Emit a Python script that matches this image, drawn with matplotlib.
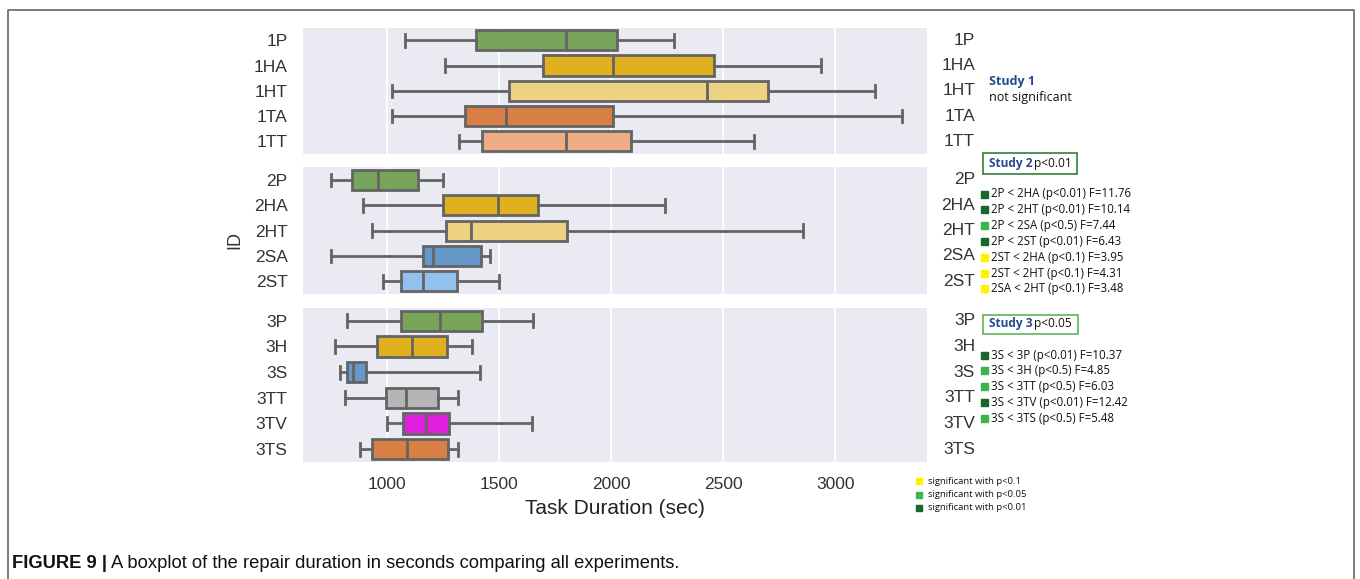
import matplotlib.pyplot as plt
import matplotlib.patches as mpatches
import matplotlib.lines as mlines

# box stats (sec)
labels1 = ["1P", "1HA", "1HT", "1TA", "1TT"]
low1 = [1079, 1259, 1022, 1022, 1322]
q1_1 = [1395, 1695, 1544, 1349, 1424]
med1 = [1799, 2010, 2430, 1531, 1799]
q3_1 = [2025, 2460, 2700, 2010, 2088]
high1 = [2280, 2938, 3180, 3300, 2640]
colors1 = ["#77a55a", "#e1b01f", "#eed283", "#d77f45", "#efad86"]

labels2 = ["2P", "2HA", "2HT", "2SA", "2ST"]
low2 = [748, 891, 932, 748, 982]
q1_2 = [844, 1250, 1265, 1162, 1063]
med2 = [961, 1494, 1375, 1204, 1159]
q3_2 = [1137, 1674, 1803, 1420, 1314]
high2 = [1249, 2239, 2857, 1461, 1499]
colors2 = ["#77a55a", "#e1b01f", "#eed283", "#6699c9", "#93c1ee"]

labels3 = ["3P", "3H", "3S", "3TT", "3TV", "3TS"]
low3 = [820, 770, 790, 812, 1002, 878]
q1_3 = [1062, 955, 822, 995, 1072, 934]
med3 = [1236, 1110, 847, 1083, 1173, 1089]
q3_3 = [1422, 1267, 905, 1227, 1278, 1270]
high3 = [1650, 1379, 1414, 1319, 1647, 1319]
colors3 = ["#77a55a", "#e1b01f", "#6699c9", "#b5b5b5", "#e01fe0", "#d77f45"]

xticks = [1000, 1500, 2000, 2500, 3000]

study2_items = ["2P < 2HA (p<0.01) F=11.76", "2P < 2HT (p<0.01) F=10.14",
                "2P < 2SA (p<0.5) F=7.44", "2P < 2ST (p<0.01) F=6.43",
                "2ST < 2HA (p<0.1) F=3.95", "2ST < 2HT (p<0.1) F=4.31",
                "2SA < 2HT (p<0.1) F=3.48"]
study2_level = ["01", "01", "05", "01", "1", "1", "1"]
study3_items = ["3S < 3P (p<0.01) F=10.37", "3S < 3H (p<0.5) F=4.85",
                "3S < 3TT (p<0.5) F=6.03", "3S < 3TV (p<0.01) F=12.42",
                "3S < 3TS (p<0.5) F=5.48"]
study3_level = ["01", "05", "05", "01", "05"]
legend_text = ["significant with p<0.1", "significant with p<0.05",
               "significant with p<0.01"]
legend_level = ["1", "05", "01"]
sig_color = {"1": "#fff200", "05": "#3db54a", "01": "#17692b"}

W, H = 1360, 579
fig = plt.figure(figsize=(W / 100, H / 100), dpi=100)
plt.rcParams['font.family'] = ['Liberation Sans', 'DejaVu Sans']

edge = "#646464"
lw = 2.0
left_px, right_px = 303, 927
panels = [(27.7, 154), (167.3, 294), (308, 462)]
groups = [(labels1, low1, q1_1, med1, q3_1, high1, colors1),
          (labels2, low2, q1_2, med2, q3_2, high2, colors2),
          (labels3, low3, q1_3, med3, q3_3, high3, colors3)]

axes = []
for (top, bot), (labs, lo, a, m, b, hi, cols) in zip(panels, groups):
    ax = fig.add_axes([left_px / W, 1 - bot / H, (right_px - left_px) / W, (bot - top) / H])
    ax.set_facecolor("#eaeaf2")
    stats = []
    for i in range(len(labs)):
        stats.append(dict(label=labs[i], whislo=lo[i], q1=a[i], med=m[i], q3=b[i], whishi=hi[i], fliers=[]))
    pos = list(range(len(labs)))
    bp = ax.bxp(stats, positions=pos, widths=0.8, orientation='horizontal', patch_artist=True,
                showfliers=False, capwidths=0.5,
                boxprops=dict(edgecolor=edge, linewidth=lw),
                medianprops=dict(color=edge, linewidth=lw),
                whiskerprops=dict(color=edge, linewidth=lw),
                capprops=dict(color=edge, linewidth=lw))
    for patch, c in zip(bp['boxes'], cols):
        patch.set_facecolor(c)
    ax.set_xlim(625, 3410)
    ax.set_ylim(len(labs) - 0.5, -0.5)
    ax.set_xticks(xticks)
    ax.grid(True, axis='x', color='white', linewidth=1.3)
    ax.set_axisbelow(True)
    for s in ax.spines.values():
        s.set_visible(False)
    ax.tick_params(length=0, labelsize=12.5, labelcolor="#333333", pad=11)
    ax.set_yticks(pos)
    ax.set_yticklabels(labs)
    for i, lab in enumerate(labs):
        ax.text(1.077, i, lab, transform=ax.get_yaxis_transform(), ha='right', va='center',
                fontsize=12.5, color="#333333")
    axes.append(ax)

axes[0].tick_params(labelbottom=False)
axes[1].tick_params(labelbottom=False)
axes[2].tick_params(axis='x', pad=11)
axes[2].set_xlabel("Task Duration (sec)", fontsize=15, color="#222222", labelpad=5)
fig.text(235 / W, 1 - 240 / H, "ID", rotation=90, ha='center', va='center', fontsize=13, color="#333333")

# annotations on the right
ann = ['Open Sans', 'DejaVu Sans']
blue = "#244a8c"
fig.canvas.draw()
renderer = fig.canvas.get_renderer()


def two_part(x, y, bold, rest, size, bcolor, fam, gap=0.3):
    t = fig.text(x / W, 1 - y / H, bold, fontsize=size, fontweight='bold', color=bcolor,
                 family=fam, va='center', ha='left')
    bb = t.get_window_extent(renderer)
    fig.text((bb.x1 + size * gap) / W, 1 - y / H, rest, fontsize=size, color="#111111",
             family=fam, va='center', ha='left')


fig.text(989 / W, 1 - 82 / H, "Study 1", fontsize=9, fontweight='bold', color=blue,
         family=ann, va='center')
fig.text(989 / W, 1 - 98 / H, "not significant", fontsize=9, color="#111111", family=ann, va='center')

fig.patches.append(mpatches.Rectangle((983 / W, 1 - 174 / H), 94 / W, 21 / H, transform=fig.transFigure,
                                      fill=False, edgecolor="#2f7f3e", linewidth=1.2))
two_part(989, 163, "Study 2", "p<0.01", 8.6, blue, ann, gap=0.2)
fig.patches.append(mpatches.Rectangle((983 / W, 1 - 334 / H), 95 / W, 19 / H, transform=fig.transFigure,
                                      fill=False, edgecolor="#5cb65c", linewidth=1.2))
two_part(989, 324, "Study 3", "p<0.05", 8.6, blue, ann, gap=0.2)

for i, (txt, lv) in enumerate(zip(study2_items, study2_level)):
    y = 194 + i * 15.8
    fig.patches.append(mpatches.Rectangle((981 / W, 1 - (y + 3.5) / H), 7 / W, 7 / H,
                                          transform=fig.transFigure, color=sig_color[lv]))
    fig.text(991 / W, 1 - y / H, txt, fontsize=8.3, color="#111111", family=ann, va='center')

for i, (txt, lv) in enumerate(zip(study3_items, study3_level)):
    y = 355 + i * 15.8
    fig.patches.append(mpatches.Rectangle((981 / W, 1 - (y + 3.5) / H), 7 / W, 7 / H,
                                          transform=fig.transFigure, color=sig_color[lv]))
    fig.text(991 / W, 1 - y / H, txt, fontsize=8.3, color="#111111", family=ann, va='center')

for i, (txt, lv) in enumerate(zip(legend_text, legend_level)):
    y = 481 + i * 13.5
    fig.patches.append(mpatches.Rectangle((916 / W, 1 - (y + 3) / H), 6 / W, 6 / H,
                                          transform=fig.transFigure, color=sig_color[lv]))
    fig.text(928 / W, 1 - y / H, txt, fontsize=6.8, color="#111111", family=ann, va='center')

# frame around the figure
fx = [8 / W, 8 / W, 1354 / W, 1354 / W]
fy = [0, 1 - 10 / H, 1 - 10 / H, 0]
fig.lines.append(mlines.Line2D(fx, fy, transform=fig.transFigure, color="#666666", linewidth=1.2))

two_part(12, 563, "FIGURE 9 |", "A boxplot of the repair duration in seconds comparing all experiments.",
         13.2, "#111111", ['Liberation Sans', 'DejaVu Sans'])

fig.savefig("out.png", dpi=100)
